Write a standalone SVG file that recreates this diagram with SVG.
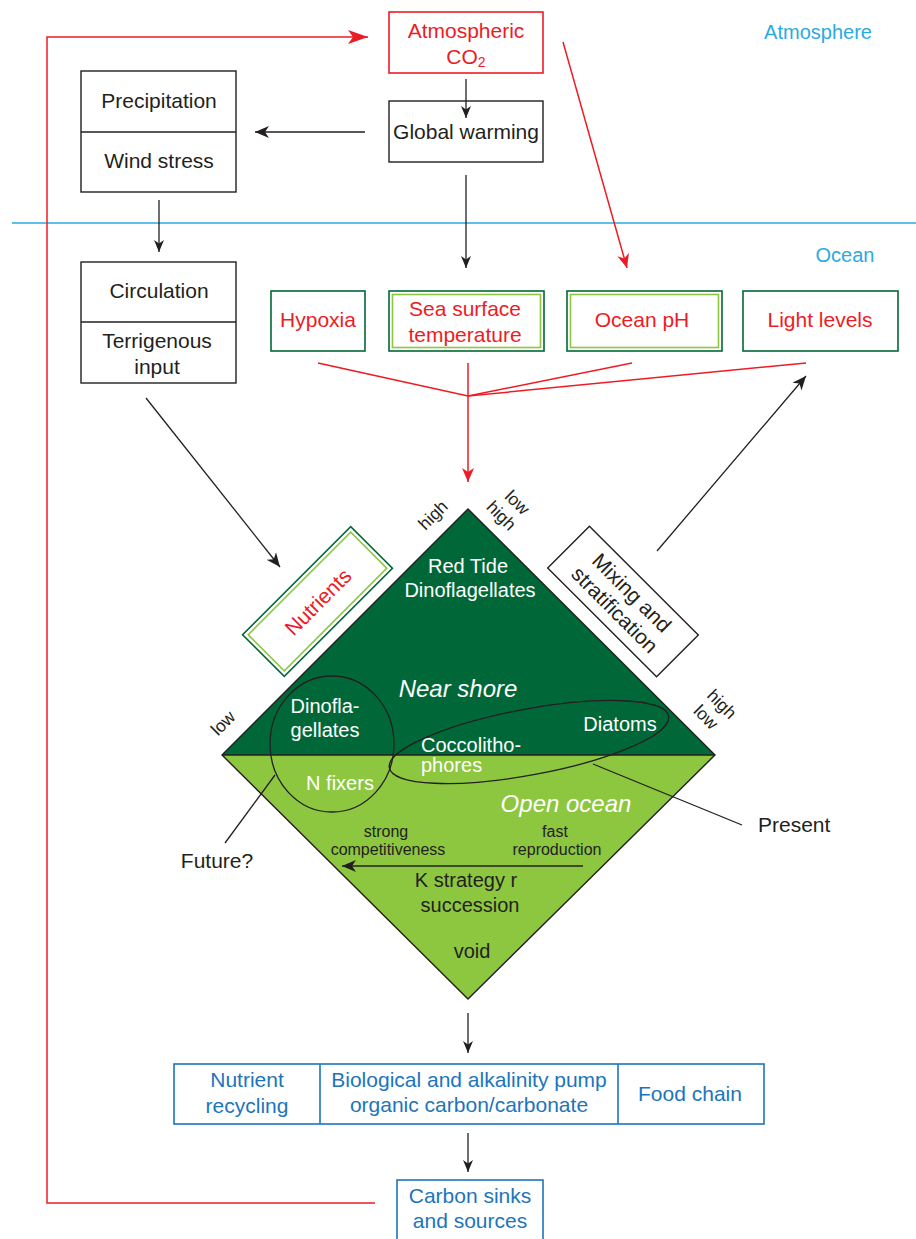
<svg xmlns="http://www.w3.org/2000/svg" width="916" height="1239" viewBox="0 0 916 1239">
<style>
text{font-family:"Liberation Sans",Arial,sans-serif;}
.t{font-size:21px;fill:#231f20;text-anchor:middle;}
.r{font-size:21px;fill:#ed1c24;text-anchor:middle;}
.b{font-size:21px;fill:#1c75bc;text-anchor:middle;}
.w{font-size:20px;fill:#ffffff;text-anchor:middle;}
.s{font-size:17.5px;fill:#231f20;text-anchor:middle;}
.k{fill:none;stroke:#231f20;stroke-width:1.4;}
.g{fill:#fff;stroke:#006838;stroke-width:1.6;}
.gi{fill:none;stroke:#8dc63f;stroke-width:1.6;}
.bl{fill:#fff;stroke:#1c75bc;stroke-width:1.6;}
.ln{fill:none;stroke:#231f20;stroke-width:1.3;}
.rl{fill:none;stroke:#ed1c24;stroke-width:1.5;}
</style>
<defs>
<marker id="ah" markerUnits="userSpaceOnUse" markerWidth="16" markerHeight="14" refX="14" refY="6" orient="auto" viewBox="0 0 16 12">
<path d="M0,0 L14,6 L0,12 L4,6 z" fill="#231f20"/>
</marker>
<marker id="ahs" markerUnits="userSpaceOnUse" markerWidth="13" markerHeight="11" refX="12" refY="5" orient="auto" viewBox="0 0 13 10">
<path d="M0,0 L12,5 L0,10 L3.5,5 z" fill="#231f20"/>
</marker>
<marker id="ahr" markerUnits="userSpaceOnUse" markerWidth="22" markerHeight="16" refX="20" refY="7" orient="auto" viewBox="0 0 22 14">
<path d="M0,0 L20,7 L0,14 L5,7 z" fill="#ed1c24"/>
</marker>
<marker id="ahr2" markerUnits="userSpaceOnUse" markerWidth="16" markerHeight="14" refX="14" refY="6" orient="auto" viewBox="0 0 16 12">
<path d="M0,0 L14,6 L0,12 L4,6 z" fill="#ed1c24"/>
</marker>
</defs>

<g id="regions">
<line x1="12" y1="223" x2="916" y2="223" stroke="#29abe2" stroke-width="1.3"/>
<text x="818" y="39" style="font-size:20px;fill:#29abe2;text-anchor:middle">Atmosphere</text>
<text x="845" y="262" style="font-size:20px;fill:#29abe2;text-anchor:middle">Ocean</text>
</g>

<g id="diamond">
<polygon points="468,509 715,755 222,755" fill="#006838"/>
<polygon points="222,755 715,755 468,999" fill="#8dc63f"/>
<polygon points="468,509 715,755 468,999 222,755" class="k" stroke-width="1.6"/>
<line x1="222" y1="755" x2="715" y2="755" class="k" stroke-width="1.6"/>
<text x="468" y="573" class="w">Red Tide</text>
<text x="470" y="597" class="w">Dinoflagellates</text>
<text x="458" y="697" style="font-size:24px;fill:#fff;font-style:italic;text-anchor:middle">Near shore</text>
<text x="566" y="812" style="font-size:24px;fill:#fff;font-style:italic;text-anchor:middle">Open ocean</text>
<text x="386" y="837" style="font-size:16px;fill:#231f20;text-anchor:middle">strong</text>
<text x="388" y="855" style="font-size:16px;fill:#231f20;text-anchor:middle">competitiveness</text>
<text x="555" y="837" style="font-size:16px;fill:#231f20;text-anchor:middle">fast</text>
<text x="557" y="855" style="font-size:16px;fill:#231f20;text-anchor:middle">reproduction</text>
<text x="466" y="887" style="font-size:20px;fill:#231f20;text-anchor:middle">K strategy r</text>
<text x="470" y="912" style="font-size:20px;fill:#231f20;text-anchor:middle">succession</text>
<text x="472" y="958" style="font-size:20px;fill:#231f20;text-anchor:middle">void</text>
</g>

<g id="dinoflagellates">
<ellipse cx="332" cy="744" rx="62" ry="68" class="ln" stroke-width="1.5"/>
<text x="325" y="713" class="w">Dinofla-</text>
<text x="325" y="737" class="w">gellates</text>
<text x="340" y="790" class="w">N fixers</text>
</g>

<g id="diatoms">
<ellipse cx="529" cy="742" rx="142" ry="33" transform="rotate(-10.5 529 742)" class="ln" stroke-width="1.5"/>
<text x="620" y="731" class="w">Diatoms</text>
<text x="421" y="752" style="font-size:20px;fill:#fff">Coccolitho-</text>
<text x="421" y="772" style="font-size:20px;fill:#fff">phores</text>
</g>

<g id="axis-labels">
<text transform="translate(433,515) rotate(-45)" x="0" y="6" class="s">high</text>
<g transform="translate(508.5,508.5) rotate(45)">
<text x="2" y="-4.5" class="s">low</text>
<text x="0" y="16" class="s">high</text>
</g>
<g transform="translate(714.5,711.5) rotate(45)">
<text x="0" y="-4.5" class="s">high</text>
<text x="-2" y="16" class="s">low</text>
</g>
<text transform="translate(223,723) rotate(-45)" x="0" y="6" class="s">low</text>
</g>

<g id="atmospheric-co2">
<rect x="389" y="12" width="154" height="61" fill="#fff" stroke="#ed1c24" stroke-width="1.6"/>
<text x="466" y="38" class="r">Atmospheric</text>
<text x="466" y="64" class="r">CO<tspan font-size="14" dy="3">2</tspan></text>
</g>

<g id="global-warming">
<rect x="389" y="101" width="154" height="61" fill="#fff" class="k"/>
<text x="466" y="139" class="t">Global warming</text>
</g>

<g id="precipitation-wind">
<rect x="81" y="71" width="155" height="121" fill="#fff" class="k"/>
<line x1="81" y1="132" x2="236" y2="132" class="k" stroke-width="1.8"/>
<text x="159" y="108" class="t">Precipitation</text>
<text x="159" y="168" class="t">Wind stress</text>
</g>

<g id="circulation-terrigenous">
<rect x="81" y="262" width="155" height="121" fill="#fff" class="k"/>
<line x1="81" y1="322" x2="236" y2="322" class="k"/>
<text x="159" y="298" class="t">Circulation</text>
<text x="157" y="348" class="t">Terrigenous</text>
<text x="157" y="374" class="t">input</text>
</g>

<g id="hypoxia">
<rect x="271" y="291" width="94" height="60" class="g"/>
<text x="318" y="327" class="r">Hypoxia</text>
</g>

<g id="sst">
<rect x="389" y="291" width="155" height="60" class="g"/>
<rect x="392.5" y="294.5" width="148" height="53" class="gi"/>
<text x="465" y="316" class="r">Sea surface</text>
<text x="465" y="342" class="r">temperature</text>
</g>

<g id="ocean-ph">
<rect x="567" y="291" width="155" height="60" class="g"/>
<rect x="570.5" y="294.5" width="148" height="53" class="gi"/>
<text x="642" y="327" class="r">Ocean pH</text>
</g>

<g id="light-levels">
<rect x="743" y="291" width="155" height="60" class="g"/>
<text x="820" y="327" class="r">Light levels</text>
</g>

<g id="nutrients" transform="translate(317.5,601.5) rotate(-45)">
<rect x="-76.5" y="-29.5" width="153" height="59" class="g"/>
<rect x="-72.5" y="-25.5" width="145" height="51" class="gi"/>
<text x="0" y="8" class="r">Nutrients</text>
</g>

<g id="mixing" transform="translate(623,601.5) rotate(45)">
<rect x="-77" y="-29.5" width="154" height="59" fill="#fff" class="k"/>
<text x="0" y="-5" class="t">Mixing and</text>
<text x="0" y="19" class="t">stratification</text>
</g>

<g id="bio-pump">
<rect x="174" y="1064" width="590" height="60" class="bl"/>
<line x1="320" y1="1064" x2="320" y2="1124" stroke="#1c75bc" stroke-width="1.6"/>
<line x1="618" y1="1064" x2="618" y2="1124" stroke="#1c75bc" stroke-width="1.6"/>
<text x="247" y="1087" class="b">Nutrient</text>
<text x="247" y="1113" class="b">recycling</text>
<text x="469" y="1087" class="b">Biological and alkalinity pump</text>
<text x="469" y="1112" class="b">organic carbon/carbonate</text>
<text x="690" y="1101" class="b">Food chain</text>
</g>

<g id="carbon-sinks">
<rect x="397" y="1180" width="146" height="62" class="bl"/>
<text x="470" y="1203" class="b">Carbon sinks</text>
<text x="470" y="1228" class="b">and sources</text>
</g>

<g id="annotations">
<text x="217" y="868" class="t">Future?</text>
<text x="758" y="832" style="font-size:21px;fill:#231f20">Present</text>
</g>

<g id="connectors">
<polyline points="375,1203 47,1203 47,37 368,37" class="rl" stroke-width="1.6" marker-end="url(#ahr)"/>
<line x1="563" y1="42" x2="627" y2="268" class="rl" marker-end="url(#ahr2)"/>
<line x1="318" y1="363" x2="468" y2="396" class="rl"/>
<line x1="632" y1="363" x2="468" y2="396" class="rl"/>
<line x1="806" y1="363" x2="468" y2="396" class="rl"/>
<line x1="468" y1="363" x2="468" y2="482" class="rl" marker-end="url(#ahr2)"/>
<line x1="466" y1="79" x2="466" y2="118" class="ln" marker-end="url(#ahs)"/>
<line x1="365" y1="132" x2="255" y2="132" class="ln" stroke-width="1.5" marker-end="url(#ah)"/>
<line x1="466" y1="175" x2="466" y2="268" class="ln" marker-end="url(#ahs)"/>
<line x1="159" y1="200" x2="159" y2="252" class="ln" marker-end="url(#ahs)"/>
<line x1="146" y1="398" x2="280" y2="567" class="ln" marker-end="url(#ah)"/>
<line x1="657" y1="551" x2="806" y2="376" class="ln" marker-end="url(#ah)"/>
<line x1="583" y1="866" x2="342" y2="866" class="ln" stroke-width="2.6" marker-end="url(#ah)"/>
<line x1="468" y1="1013" x2="468" y2="1053" class="ln" marker-end="url(#ahs)"/>
<line x1="468" y1="1133" x2="468" y2="1172" class="ln" marker-end="url(#ahs)"/>
<line x1="593" y1="764" x2="742" y2="825" class="ln"/>
<line x1="275" y1="775" x2="225" y2="843" class="ln"/>
</g>
</svg>
